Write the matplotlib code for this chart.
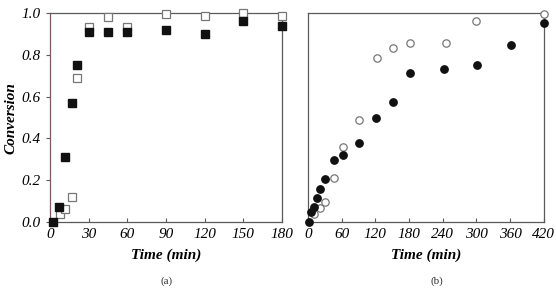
import matplotlib
matplotlib.use('Agg')
import matplotlib.pyplot as plt

# panel (a) - squares
ta_filled = [2, 7, 12, 17, 21, 30, 45, 60, 90, 120, 150, 180]
xa_filled = [0.0, 0.07, 0.31, 0.57, 0.75, 0.91, 0.91, 0.91, 0.92, 0.90, 0.96, 0.94]
ta_open = [8, 12, 17, 21, 30, 45, 60, 90, 120, 150, 180]
xa_open = [0.04, 0.06, 0.12, 0.69, 0.935, 0.98, 0.935, 0.995, 0.985, 1.0, 0.985]

# panel (b) - circles
tb_filled = [2, 5, 11, 16, 21, 31, 47, 62, 91, 121, 152, 181, 242, 301, 361, 420]
xb_filled = [0.0, 0.05, 0.073, 0.116, 0.158, 0.204, 0.295, 0.32, 0.376, 0.496,
             0.576, 0.711, 0.73, 0.751, 0.847, 0.954]
tb_open = [11, 21, 31, 47, 62, 91, 122, 152, 181, 245, 300, 420]
xb_open = [0.038, 0.065, 0.097, 0.209, 0.357, 0.488, 0.786, 0.834, 0.858,
           0.858, 0.962, 0.994]

serif = ['Liberation Serif', 'DejaVu Serif']
spine_col = '#5a5a5a'

fig = plt.figure(figsize=(5.56, 2.89), dpi=100)
ax1 = fig.add_axes([0.09, 0.232, 0.417, 0.723])
ax2 = fig.add_axes([0.554, 0.232, 0.424, 0.723])

ax1.plot(ta_open, xa_open, 's', ms=6.2, mfc='white', mec='#777777', mew=0.9, clip_on=False, zorder=3)
ax1.plot(ta_filled, xa_filled, 's', ms=6.2, mfc='#111111', mec='#111111', clip_on=False, zorder=4)
ax2.plot(tb_open, xb_open, 'o', ms=5.3, mfc='white', mec='#777777', mew=0.9, clip_on=False, zorder=3)
ax2.plot(tb_filled, xb_filled, 'o', ms=5.3, mfc='#111111', mec='#111111', clip_on=False, zorder=4)

ax1.set_xlim(0, 180)
ax1.set_xticks(range(0, 181, 30))
ax2.set_xlim(0, 420)
ax2.set_xticks(range(0, 421, 60))
for ax in (ax1, ax2):
    ax.set_ylim(0, 1.0)
    for s in ax.spines.values():
        s.set_color(spine_col)
        s.set_linewidth(0.9)
    ax.tick_params(axis='x', direction='in', length=3, color=spine_col, pad=4)
    ax.tick_params(axis='y', direction='out', length=3, color=spine_col)
    for lab in ax.get_xticklabels():
        lab.set_fontfamily(serif)
        lab.set_fontstyle('italic')
        lab.set_fontsize(11)
    ax.set_xlabel('Time (min)', fontfamily=serif, fontstyle='italic',
                  fontweight='bold', fontsize=11, labelpad=6)

ax1.spines['left'].set_color('#7a5a5a')
ax1.set_yticks([0.0, 0.2, 0.4, 0.6, 0.8, 1.0])
ax1.set_yticklabels(['0.0', '0.2', '0.4', '0.6', '0.8', '1.0'])
for lab in ax1.get_yticklabels():
    lab.set_fontfamily(serif)
    lab.set_fontstyle('italic')
    lab.set_fontsize(11)
ax2.set_yticks([])

fig.text(0.019, 0.593, 'Conversion', fontfamily=serif, fontstyle='italic',
         fontweight='bold', fontsize=11, rotation=90, ha='center', va='center')
fig.text(0.30, 0.018, '(a)', fontfamily=serif, fontsize=8, ha='center', color='#333333')
fig.text(0.786, 0.018, '(b)', fontfamily=serif, fontsize=8, ha='center', color='#333333')

fig.savefig('out.png', dpi=100)
